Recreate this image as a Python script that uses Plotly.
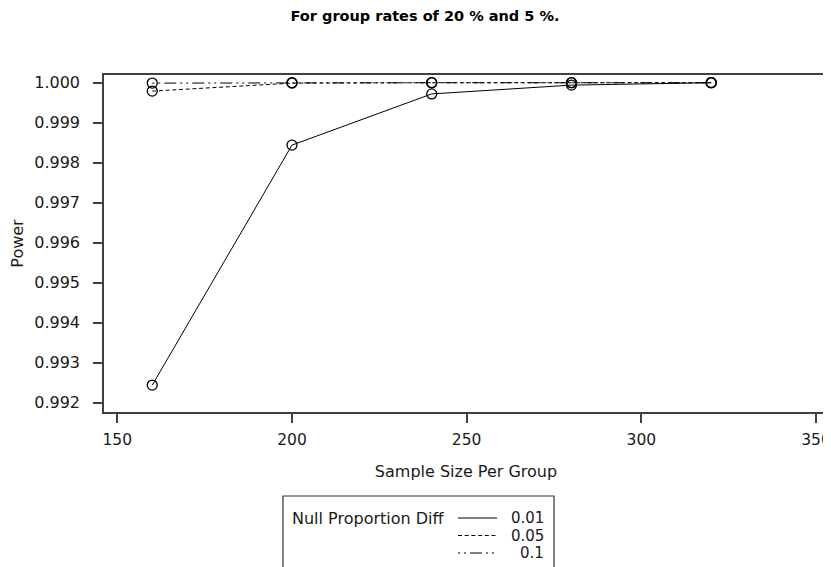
import plotly.graph_objects as go

sample_size = [160, 200, 240, 280, 320]
series_names = ["0.01", "0.05", "0.1"]
power_001 = [0.99244, 0.99844, 0.99972, 0.99994, 1.00000]
power_005 = [0.99979, 0.99999, 1.00000, 1.00000, 1.00000]
power_010 = [0.99999, 1.00000, 1.00000, 1.00000, 1.00000]
y_ticks = [0.992, 0.993, 0.994, 0.995, 0.996, 0.997, 0.998, 0.999, 1.000]
x_ticks = [150, 200, 250, 300, 350]
legend_title = "Null Proportion Diff"

W, H = 831, 567
OFF = 8  # page body margin shifts the figure by this many px
L, R, T, B = 96, 11, 67, 163
PW, PH = W - L - R, H - T - B

def px_x(px):
    return (px - OFF - L) / PW

def px_y(py):
    return (H - B - (py - OFF)) / PH

dashes = ["solid", "4px,2.7px", "2px,4px,2px,4px,12px,4px"]
series = [power_001, power_005, power_010]

FONT = "DejaVu Sans, Verdana, sans-serif"
TXT = "#1a1a1a"
fig = go.Figure()
for name, vals, d in zip(series_names, series, dashes):
    fig.add_trace(go.Scatter(
        x=sample_size, y=vals, mode="lines+markers", name=name,
        line=dict(color="black", width=1, dash=d),
        marker=dict(symbol="circle-open", size=10, color="black", line=dict(width=1.3)),
        showlegend=False,
    ))

axis_common = dict(
    showline=True, mirror=True, linecolor="#404040", linewidth=1.5,
    ticks="outside", ticklen=9, tickcolor="#404040", tickwidth=1.5,
    showgrid=False, zeroline=False, automargin=False,
)

# legend box drawn below the plot, centred on the page
shapes = [dict(type="rect", xref="paper", yref="paper",
               x0=px_x(283), x1=px_x(554), y0=px_y(590), y1=px_y(496),
               line=dict(color="#333", width=1.2), fillcolor="white", layer="above")]
annotations = [dict(text=legend_title, xref="paper", yref="paper",
                    x=px_x(290), y=px_y(518), xanchor="left", yanchor="middle",
                    showarrow=False, font=dict(family=FONT, size=16, color=TXT))]
row_y = [518, 535.5, 553]
for name, d, ry in zip(series_names, dashes, row_y):
    shapes.append(dict(type="line", xref="paper", yref="paper",
                       x0=px_x(458), x1=px_x(497), y0=px_y(ry), y1=px_y(ry),
                       line=dict(color="black", width=1, dash=d)))
    annotations.append(dict(text=name, xref="paper", yref="paper",
                            x=px_x(546), y=px_y(ry), xanchor="right", yanchor="middle",
                            showarrow=False, font=dict(family=FONT, size=15, color=TXT)))

fig.update_layout(
    width=W, height=H,
    margin=dict(l=L, r=R, t=T, b=B, autoexpand=False),
    paper_bgcolor="white", plot_bgcolor="white",
    title=dict(text="<b>For group rates of 20 % and 5 %.</b>",
               x=(425 - OFF) / W, xref="container", xanchor="center",
               y=1 - (16 - OFF) / H, yref="container", yanchor="middle",
               font=dict(family=FONT, size=14.5, color="black")),
    xaxis=dict(range=[146.19, 353.43], tickvals=x_ticks, ticklabelstandoff=4,
               tickfont=dict(family=FONT, size=15.5, color=TXT),
               title=dict(text="Sample Size Per Group", standoff=17,
                          font=dict(family=FONT, size=16, color=TXT)),
               **axis_common),
    yaxis=dict(range=[0.991768, 1.000193], tickvals=y_ticks, tickformat=".3f",
               ticklabelstandoff=10,
               tickfont=dict(family=FONT, size=16, color=TXT),
               title=dict(text="Power", standoff=13,
                          font=dict(family=FONT, size=16, color=TXT)),
               **axis_common),
    shapes=shapes, annotations=annotations,
    showlegend=False,
)

fig.write_html("out.html")
